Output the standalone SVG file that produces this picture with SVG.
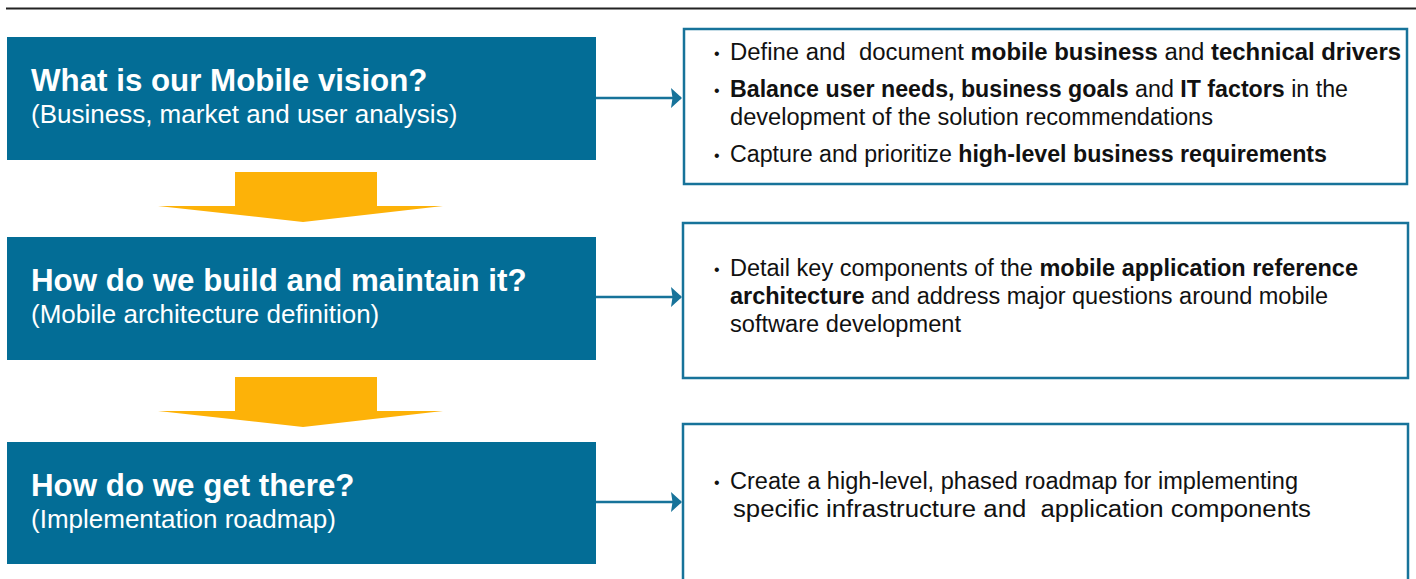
<svg xmlns="http://www.w3.org/2000/svg" width="1416" height="579" viewBox="0 0 1416 579">
  <style>
    .stage { fill: #036D96; }
    .title { font-family: "Liberation Sans", Arial, sans-serif; font-weight: bold; font-size: 31.3px; fill: #ffffff; }
    .sub { font-family: "Liberation Sans", Arial, sans-serif; font-size: 26px; fill: #ffffff; }
    .panel { fill: #ffffff; stroke: #17739A; stroke-width: 2.5; }
    .txt { font-family: "Liberation Sans", Arial, sans-serif; font-size: 23px; fill: #111111; }
    .b { font-weight: bold; }
    .bul { font-family: "Liberation Sans", Arial, sans-serif; font-size: 16px; fill: #111111; }
    .flow { fill: #FDB208; }
    .conn { stroke: #17739A; stroke-width: 2.5; fill: none; }
  </style>
  <defs>
    <marker id="ah" markerUnits="userSpaceOnUse" markerWidth="12" markerHeight="22" refX="10" refY="10" orient="auto">
      <path d="M0,0 L11,10 L0,20 L1.5,10 Z" fill="#17739A"/>
    </marker>
  </defs>

  <line x1="6" y1="8.5" x2="1416" y2="8.5" stroke="#222222" stroke-width="1.8"/>

  <g id="stage1">
    <rect class="stage" x="7" y="37" width="589" height="123"/>
    <text class="title" x="31" y="91">What is our Mobile vision?</text>
    <text class="sub" x="31" y="123">(Business, market and user analysis)</text>
  </g>
  <g id="stage2">
    <rect class="stage" x="7" y="237" width="589" height="123"/>
    <text class="title" x="31" y="291">How do we build and maintain it?</text>
    <text class="sub" x="31" y="323">(Mobile architecture definition)</text>
  </g>
  <g id="stage3">
    <rect class="stage" x="7" y="442" width="589" height="122"/>
    <text class="title" x="31" y="496">How do we get there?</text>
    <text class="sub" x="31" y="528">(Implementation roadmap)</text>
  </g>

  <g id="flow1">
    <polygon class="flow" points="235,172 377,172 377,206 443,206 303,222 158,206 235,206"/>
  </g>
  <g id="flow2">
    <polygon class="flow" points="235,377 377,377 377,411 443,411 303,427 158,411 235,411"/>
  </g>

  <g id="panel1">
    <rect class="panel" x="684" y="29" width="723" height="155"/>
    <text class="bul" x="714" y="59">•</text>
    <text class="txt" x="730" y="60" textLength="671" lengthAdjust="spacingAndGlyphs">Define and &#160;document <tspan class="b">mobile business</tspan> and <tspan class="b">technical drivers</tspan></text>
    <text class="bul" x="714" y="96">•</text>
    <text class="txt" x="730" y="97" textLength="618" lengthAdjust="spacingAndGlyphs"><tspan class="b">Balance user needs, business goals</tspan> and <tspan class="b">IT factors</tspan> in the</text>
    <text class="txt" x="730" y="125" textLength="483" lengthAdjust="spacingAndGlyphs">development of the solution recommendations</text>
    <text class="bul" x="714" y="161">•</text>
    <text class="txt" x="730" y="162" textLength="597" lengthAdjust="spacingAndGlyphs">Capture and prioritize <tspan class="b">high-level business requirements</tspan></text>
  </g>

  <g id="panel2">
    <rect class="panel" x="683" y="223" width="725" height="155"/>
    <text class="bul" x="714" y="275">•</text>
    <text class="txt" x="730" y="276" textLength="628" lengthAdjust="spacingAndGlyphs">Detail key components of the <tspan class="b">mobile application reference</tspan></text>
    <text class="txt" x="730" y="304" textLength="598" lengthAdjust="spacingAndGlyphs"><tspan class="b">architecture</tspan> and address major questions around mobile</text>
    <text class="txt" x="730" y="332" textLength="231" lengthAdjust="spacingAndGlyphs">software development</text>
  </g>

  <g id="panel3">
    <rect class="panel" x="683" y="424" width="725" height="170"/>
    <text class="bul" x="714" y="488">•</text>
    <text class="txt" x="730" y="489" textLength="568" lengthAdjust="spacingAndGlyphs">Create a high-level, phased roadmap for implementing</text>
    <text class="txt" x="733" y="517" textLength="578" lengthAdjust="spacingAndGlyphs">specific infrastructure and &#160;application components</text>
  </g>

  <g id="connectors">
    <line class="conn" x1="596" y1="98" x2="681" y2="98" marker-end="url(#ah)"/>
    <line class="conn" x1="596" y1="297" x2="681" y2="297" marker-end="url(#ah)"/>
    <line class="conn" x1="596" y1="502" x2="681" y2="502" marker-end="url(#ah)"/>
  </g>
</svg>
